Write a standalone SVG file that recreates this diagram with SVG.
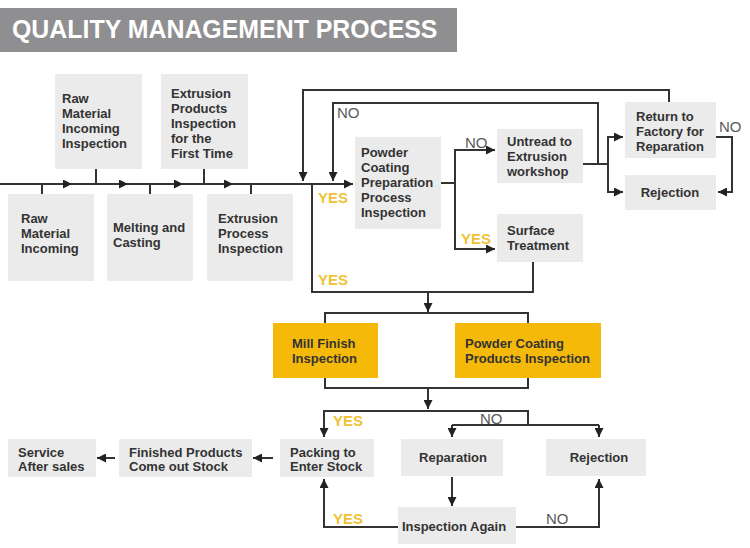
<svg xmlns="http://www.w3.org/2000/svg" width="750" height="548" viewBox="0 0 750 548">
<style>
.box{fill:#ebebeb}
.ybox{fill:#f5b90a}
.t{font-family:"Liberation Sans",Arial,sans-serif;font-weight:bold;font-size:13px;fill:#333}
.c{text-anchor:middle}
.ln{fill:none;stroke:#333;stroke-width:2}
.arr{marker-end:url(#ah)}
.no{font-family:"Liberation Sans",Arial,sans-serif;font-size:15px;fill:#5a5a5a}
.yes{font-family:"Liberation Sans",Arial,sans-serif;font-weight:bold;font-size:15px;fill:#f0c234}
</style>
<defs>
<marker id="ah" viewBox="0 0 10 10" refX="10" refY="5" markerUnits="userSpaceOnUse" markerWidth="10" markerHeight="9" orient="auto">
<path d="M0,0 L10,5 L0,10 z" fill="#222"/>
</marker>
</defs>
<rect width="750" height="548" fill="#fff"/>
<g id="title">
<rect x="0" y="8" width="457" height="44" fill="#8f8e91"/>
<text x="12" y="38" font-family="'Liberation Sans',Arial,sans-serif" font-weight="bold" font-size="24.9" fill="#fff">QUALITY MANAGEMENT PROCESS</text>
</g>
<g id="connectors">
<path class="ln" d="M0,184 L72,184 L128,184 L183,184 L233,184 L353,184" marker-mid="url(#ah)" marker-end="url(#ah)"/>
<path class="ln" d="M42,184V194M150,184V194M251,184V194M96,184V169M204,184V169"/>
<path class="ln arr" d="M669,102V90H303V181"/>
<path class="ln arr" d="M598,164V103H333V181"/>
<path class="ln" d="M583,164H608"/>
<path class="ln arr" d="M608,164V137H623"/>
<path class="ln arr" d="M608,164V192H623"/>
<path class="ln arr" d="M716,137H732V192H718"/>
<path class="ln" d="M441,183H455"/>
<path class="ln arr" d="M455,183V150H495"/>
<path class="ln arr" d="M455,183V249H495"/>
<path class="ln" d="M312,184V292H533V262"/>
<path class="ln arr" d="M428,292V312"/>
<path class="ln" d="M325,323V313H528V323M325,378V388H528V378"/>
<path class="ln arr" d="M428,388V409"/>
<path class="ln arr" d="M528,425V411H324V437"/>
<path class="ln" d="M452,425H599"/>
<path class="ln arr" d="M452,425V437"/>
<path class="ln arr" d="M599,425V437"/>
<path class="ln arr" d="M452,477V506"/>
<path class="ln arr" d="M516,527H599V479"/>
<path class="ln arr" d="M398,527H324V479"/>
<path class="ln arr" d="M273,458H253"/>
<path class="ln arr" d="M115,458H97"/>
<text class="no" x="337" y="118">NO</text>
<text class="no" x="465" y="148">NO</text>
<text class="no" x="719" y="132">NO</text>
<text class="no" x="480" y="424">NO</text>
<text class="no" x="546" y="524">NO</text>
<text class="yes" x="318" y="203">YES</text>
<text class="yes" x="318" y="285">YES</text>
<text class="yes" x="461" y="244">YES</text>
<text class="yes" x="333" y="426">YES</text>
<text class="yes" x="333" y="524">YES</text>
</g>
<g id="raw-inspection">
<rect class="box" x="55" y="74" width="87" height="95"/>
<text class="t" x="62" y="103">Raw</text>
<text class="t" x="62" y="118">Material</text>
<text class="t" x="62" y="133">Incoming</text>
<text class="t" x="62" y="148">Inspection</text>
</g>
<g id="extrusion-first">
<rect class="box" x="161" y="74" width="87" height="95"/>
<text class="t" x="171" y="98">Extrusion</text>
<text class="t" x="171" y="113">Products</text>
<text class="t" x="171" y="128">Inspection</text>
<text class="t" x="171" y="143">for the</text>
<text class="t" x="171" y="158">First Time</text>
</g>
<g id="raw-incoming">
<rect class="box" x="8" y="194" width="86" height="87"/>
<text class="t" x="21" y="223">Raw</text>
<text class="t" x="21" y="238">Material</text>
<text class="t" x="21" y="253">Incoming</text>
</g>
<g id="melting">
<rect class="box" x="107" y="194" width="86" height="87"/>
<text class="t" x="113" y="232">Melting and</text>
<text class="t" x="113" y="247">Casting</text>
</g>
<g id="extrusion-process">
<rect class="box" x="207" y="194" width="86" height="87"/>
<text class="t" x="218" y="223">Extrusion</text>
<text class="t" x="218" y="238">Process</text>
<text class="t" x="218" y="253">Inspection</text>
</g>
<g id="powder-prep">
<rect class="box" x="355" y="137" width="86" height="92"/>
<text class="t" x="361" y="157">Powder</text>
<text class="t" x="361" y="172">Coating</text>
<text class="t" x="361" y="187">Preparation</text>
<text class="t" x="361" y="202">Process</text>
<text class="t" x="361" y="217">Inspection</text>
</g>
<g id="untread">
<rect class="box" x="497" y="129" width="86" height="54"/>
<text class="t" x="507" y="146">Untread to</text>
<text class="t" x="507" y="161">Extrusion</text>
<text class="t" x="507" y="176">workshop</text>
</g>
<g id="surface">
<rect class="box" x="497" y="214" width="86" height="48"/>
<text class="t" x="507" y="235">Surface</text>
<text class="t" x="507" y="250">Treatment</text>
</g>
<g id="return-factory">
<rect class="box" x="625" y="102" width="91" height="56"/>
<text class="t" x="636" y="121">Return to</text>
<text class="t" x="636" y="136">Factory for</text>
<text class="t" x="636" y="151">Reparation</text>
</g>
<g id="rejection-top">
<rect class="box" x="625" y="175" width="91" height="35"/>
<text class="t c" x="670" y="197">Rejection</text>
</g>
<g id="mill-finish">
<rect class="ybox" x="273" y="323" width="105" height="55"/>
<text class="t" x="292" y="348">Mill Finish</text>
<text class="t" x="292" y="363">Inspection</text>
</g>
<g id="powder-products">
<rect class="ybox" x="455" y="323" width="146" height="55"/>
<text class="t" x="465" y="348">Powder Coating</text>
<text class="t" x="465" y="363">Products Inspection</text>
</g>
<g id="packing">
<rect class="box" x="280" y="439" width="94" height="38"/>
<text class="t" x="290" y="457">Packing to</text>
<text class="t" x="290" y="471">Enter Stock</text>
</g>
<g id="finished">
<rect class="box" x="119" y="439" width="133" height="38"/>
<text class="t" x="129" y="457">Finished Products</text>
<text class="t" x="129" y="471">Come out Stock</text>
</g>
<g id="service">
<rect class="box" x="8" y="439" width="88" height="38"/>
<text class="t" x="18" y="457">Service</text>
<text class="t" x="18" y="471">After sales</text>
</g>
<g id="reparation">
<rect class="box" x="401" y="439" width="102" height="37"/>
<text class="t c" x="453" y="462">Reparation</text>
</g>
<g id="rejection-bottom">
<rect class="box" x="546" y="439" width="100" height="37"/>
<text class="t c" x="599" y="462">Rejection</text>
</g>
<g id="inspection-again">
<rect class="box" x="398" y="507" width="118" height="37"/>
<text class="t c" x="454" y="531">Inspection Again</text>
</g>
</svg>
